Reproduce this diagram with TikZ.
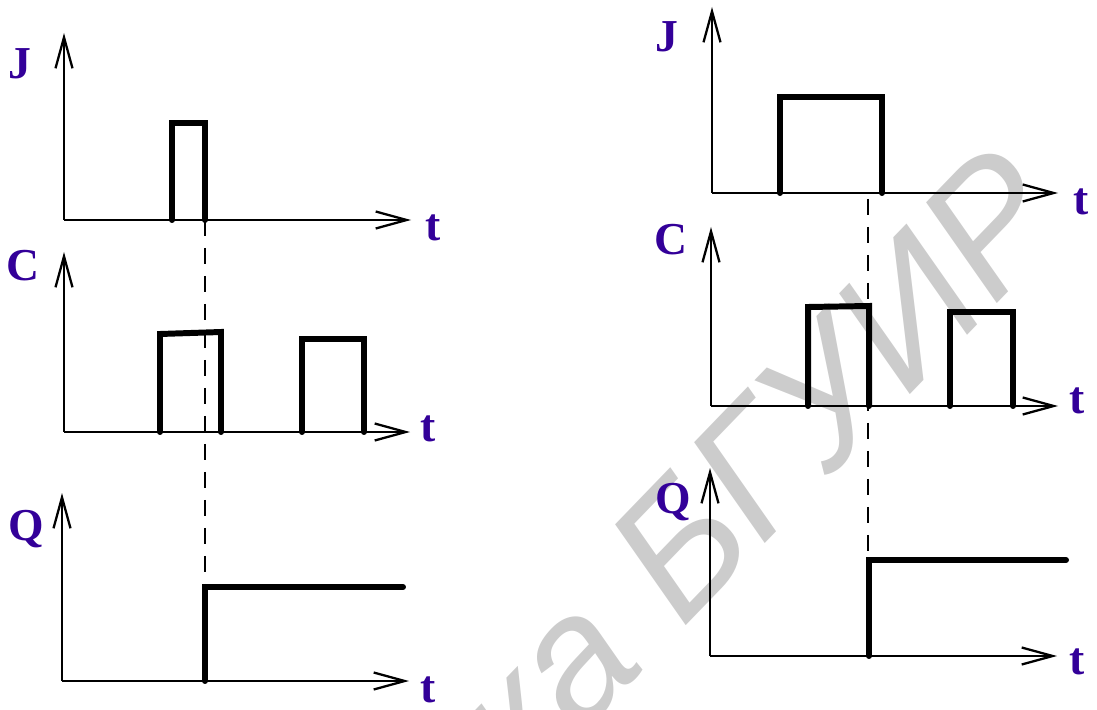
\documentclass[tikz,border=0pt]{standalone}
\usepackage{fontspec}
\setmainfont{Liberation Serif}
\newfontfamily\wmfont{Liberation Sans}
\usetikzlibrary{arrows.meta}
\definecolor{labelblue}{RGB}{51,0,153}

\begin{document}
\begin{tikzpicture}[x=0.02cm, y=-0.02cm,
    axis/.style = {line width=1.3pt, -{Straight Barb[length=6.2mm, width=3.4mm]}},
    signal/.style = {line width=3.4pt, line cap=round},
    guide/.style = {line width=1.3pt, dash pattern=on 0.32cm off 0.24cm},
    lbl/.style = {text=labelblue, font=\fontsize{26}{26}\selectfont\bfseries, inner sep=0pt},
    wmark/.style = {text=black!20, font=\wmfont\itshape\fontsize{100}{100}\selectfont, inner sep=0pt}]
    \useasboundingbox (0,0) rectangle (1097,709);
    \clip (0,0) rectangle (1097,709);

    % watermark
    \node[wmark, rotate=46, anchor=base west] (wm) at (523,795) {ка БГУИР};

    % left: axes
    \coordinate (oJ1) at (64,220);
    \coordinate (oC1) at (64,432);
    \coordinate (oQ1) at (62,681);
    \draw[axis] (oJ1) -- ++(0,-187);
    \draw[axis] (oJ1) -- ++(347,0);
    \draw[axis] (oC1) -- ++(0,-180);
    \draw[axis] (oC1) -- ++(346,0);
    \draw[axis] (oQ1) -- ++(0,-188);
    \draw[axis] (oQ1) -- ++(347,0);

    \node[lbl] (J1) at (20,64) {J};
    \node[lbl] (tJ1) at (433,228) {t};
    \node[lbl] (C1) at (23,266) {C};
    \node[lbl] (tC1) at (428,429) {t};
    \node[lbl] (Q1) at (26,529) {Q};
    \node[lbl] (tQ1) at (428,690) {t};

    % left: signals
    \draw[signal] (172,220) -- (172,123) -- (205,123) -- (205,220);
    \draw[signal] (160,432) -- (160,334) -- (221,332) -- (221,432);
    \draw[signal] (302,432) -- (302,339) -- (364,339) -- (364,432);
    \draw[signal] (205,681) -- (205,587) -- (403,587);
    \draw[guide] (205,220) -- (205,587);

    % right: axes
    \coordinate (oJ2) at (712,193);
    \coordinate (oC2) at (711,406);
    \coordinate (oQ2) at (710,656);
    \draw[axis] (oJ2) -- ++(0,-186);
    \draw[axis] (oJ2) -- ++(346,0);
    \draw[axis] (oC2) -- ++(0,-179);
    \draw[axis] (oC2) -- ++(347,0);
    \draw[axis] (oQ2) -- ++(0,-188);
    \draw[axis] (oQ2) -- ++(347,0);

    \node[lbl] (J2) at (667,37) {J};
    \node[lbl] (tJ2) at (1081,202) {t};
    \node[lbl] (C2) at (671,240) {C};
    \node[lbl] (tC2) at (1077,401) {t};
    \node[lbl] (Q2) at (673,502) {Q};
    \node[lbl] (tQ2) at (1077,662) {t};

    % right: signals
    \draw[signal] (780,193) -- (780,97) -- (882,97) -- (882,193);
    \draw[signal] (808,406) -- (808,307) -- (869,306) -- (869,406);
    \draw[signal] (950,406) -- (950,312) -- (1013,312) -- (1013,406);
    \draw[signal] (869,656) -- (869,560) -- (1066,560);
    \draw[guide] (868,199) -- (868,560);
\end{tikzpicture}
\end{document}
